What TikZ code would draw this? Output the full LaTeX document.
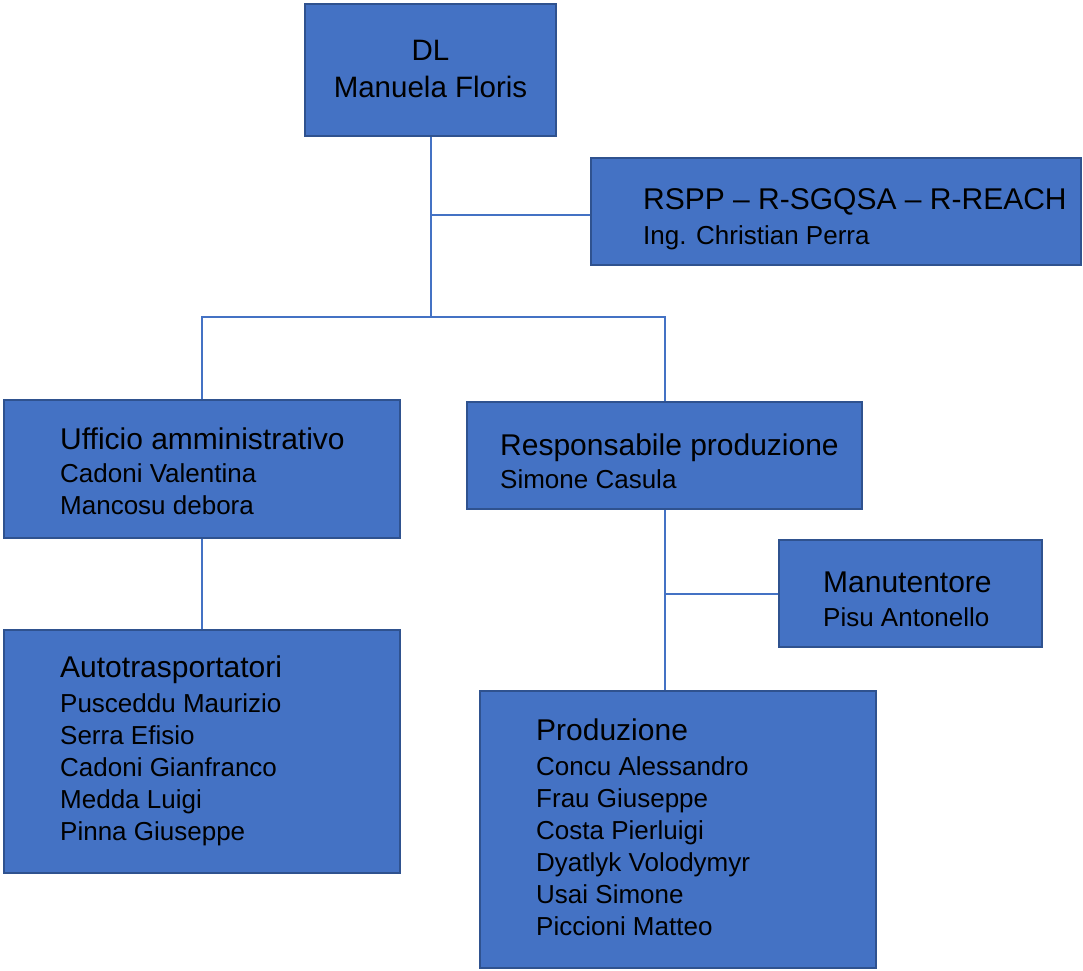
\documentclass[tikz,border=0pt]{standalone}
\usepackage{fontspec}
\setmainfont{Liberation Sans}
\definecolor{boxfill}{HTML}{4472C4}
\definecolor{boxline}{HTML}{2F528F}
\newcommand{\ttl}[1]{{\fontsize{30}{34}\selectfont #1}}
\begin{document}
\begin{tikzpicture}[x=1pt,y=-1pt,
  orgbox/.style={draw=boxline, line width=1.8pt, fill=boxfill, rectangle, inner sep=0pt},
  txt/.style={inner sep=0pt, align=left, anchor=west, text=black, font=\fontsize{26}{32}\selectfont},
  conn/.style={draw=boxfill, line width=2pt}]
\useasboundingbox (0,0) rectangle (1083,970);
% boxes
\node[orgbox, minimum width=251pt, minimum height=132pt] (dl) at (430.5,70) {};
\node[orgbox, minimum width=490pt, minimum height=107pt] (rspp) at (836,211.5) {};
\node[orgbox, minimum width=396pt, minimum height=138pt] (uff) at (202,469) {};
\node[orgbox, minimum width=395pt, minimum height=107pt] (resp) at (664.5,455.5) {};
\node[orgbox, minimum width=396pt, minimum height=243pt] (auto) at (202,751.5) {};
\node[orgbox, minimum width=263pt, minimum height=107pt] (manu) at (910.5,593.5) {};
\node[orgbox, minimum width=396pt, minimum height=277pt] (prod) at (678,829.5) {};
% texts
\node[inner sep=0pt, align=center, font=\fontsize{29.5}{37}\selectfont] (dlT) at (430.5,68.5) {DL\\Manuela Floris};
\node[txt] (rsppT) at (643,219) {\ttl{RSPP -- R-SGQSA -- R-REACH}\\[3pt]Ing. Christian Perra};
\node[txt] (uffT) at (60,471.5) {\ttl{Ufficio amministrativo}\\[1pt]Cadoni Valentina\\Mancosu debora};
\node[txt] (respT) at (500,461.5) {\ttl{Responsabile produzione}\\[1pt]Simone Casula};
\node[txt] (autoT) at (60,751) {\ttl{Autotrasportatori}\\[3pt]Pusceddu Maurizio\\Serra Efisio\\Cadoni Gianfranco\\Medda Luigi\\Pinna Giuseppe};
\node[txt] (manuT) at (823,599) {\ttl{Manutentore}\\[2pt]Pisu Antonello};
\node[txt] (prodT) at (536,827) {\ttl{Produzione}\\[3pt]Concu Alessandro\\Frau Giuseppe\\Costa Pierluigi\\Dyatlyk Volodymyr\\Usai Simone\\Piccioni Matteo};
% connectors
\coordinate (j1) at (430.5,317);
\coordinate (j2) at (430.5,215);
\draw[conn] (dl.south) -- (j1);
\draw[conn] (j2) -- (j2 -| rspp.west);
\draw[conn] (uff.north) -- (uff.north |- j1) -- (resp.north |- j1) -- (resp.north);
\draw[conn] (uff.south) -- (auto.north);
\draw[conn] (resp.south) -- (resp.south |- prod.north);
\draw[conn] (resp.south |- manu.west) -- (manu.west);
\end{tikzpicture}
\end{document}
